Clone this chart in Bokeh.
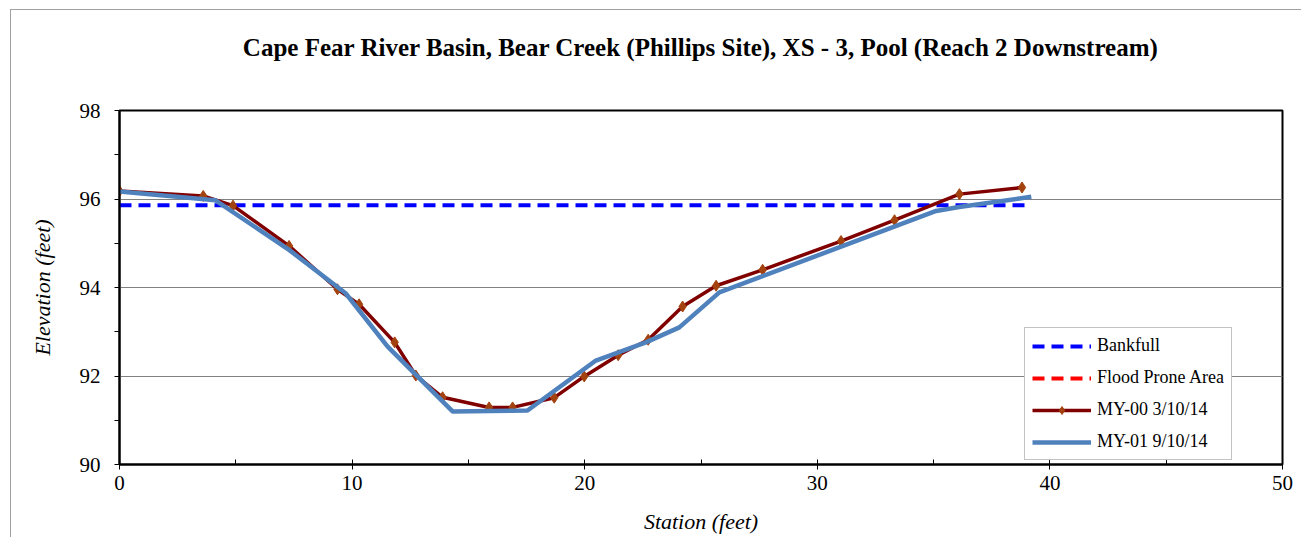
from bokeh.plotting import figure
from bokeh.models import Range1d, FixedTicker, Legend, LegendItem, Title
from bokeh.embed import file_html
from bokeh.resources import INLINE

# ---------------- data ----------------
title_text = "Cape Fear River Basin, Bear Creek (Phillips Site), XS - 3, Pool (Reach 2 Downstream)"

my00_station = [0.0, 3.60, 4.88, 7.29, 9.37, 10.30, 11.83, 12.74, 13.89, 15.89, 16.90,
                18.69, 19.98, 21.44, 22.73, 24.21, 25.65, 27.65, 31.02, 33.32, 36.11, 38.80]
my00_elev = [96.18, 96.07, 95.85, 94.94, 93.96, 93.62, 92.76, 92.01, 91.52, 91.29, 91.29,
             91.51, 91.99, 92.47, 92.82, 93.57, 94.04, 94.40, 95.05, 95.52, 96.11, 96.26]

my01_station = [0.0, 4.13, 7.29, 9.72, 11.52, 14.32, 17.54, 20.48, 22.63, 24.07, 25.79,
                35.11, 36.10, 39.20]
my01_elev = [96.17, 95.97, 94.85, 93.87, 92.67, 91.20, 91.22, 92.35, 92.76, 93.10, 93.89,
             95.73, 95.82, 96.05]

bankfull_station = [0.0, 39.20]
bankfull_elev = [95.86, 95.86]

# flood prone area: no visible values inside the chart (legend entry only)
flood_station = [float("nan"), float("nan")]
flood_elev = [float("nan"), float("nan")]

x_major = [0, 10, 20, 30, 40, 50]
x_minor = [5, 15, 25, 35, 45]
y_major = [90, 92, 94, 96, 98]
y_minor = [91, 93, 95, 97]

# ---------------- figure ----------------
FONT = "Liberation Serif"

p = figure(width=1291, height=528, output_backend="svg", toolbar_location=None,
           title=None,
           x_range=Range1d(0, 50), y_range=Range1d(90, 98),
           min_border_left=108, min_border_right=20, min_border_top=100,
           min_border_bottom=74)
p.styles = {"border-left": "1px solid #a0a0a0", "border-top": "1px solid #a0a0a0",
            "margin-left": "10px", "margin-top": "9px"}

# spacer panel between the frame and the title (nearest to the frame)
spacer = Title(text=" ", text_font_size="10px", standoff=37)
p.add_layout(spacer, "above")
main_title = Title(text=title_text, align="center", vertical_align="bottom", standoff=0,
                   text_font=FONT, text_font_size="25px", text_font_style="bold",
                   text_color="black")
p.add_layout(main_title, "above")

p.outline_line_color = "black"
p.outline_line_width = 2
p.background_fill_color = "white"
p.border_fill_color = "white"

p.xgrid.visible = False
p.ygrid.ticker = FixedTicker(ticks=y_major)
p.ygrid.grid_line_color = "#808080"
p.ygrid.grid_line_width = 1

xa = p.xaxis[0]
xa.ticker = FixedTicker(ticks=x_major, minor_ticks=x_minor)
xa.axis_label = "Station (feet)"
ya = p.yaxis[0]
ya.ticker = FixedTicker(ticks=y_major, minor_ticks=y_minor)
ya.axis_label = "Elevation (feet)"

for ax in (xa, ya):
    ax.axis_line_color = "black"
    ax.axis_line_width = 2
    ax.major_tick_line_color = "black"
    ax.minor_tick_line_color = "black"
    ax.major_label_text_font = FONT
    ax.major_label_text_font_size = "21px"
    ax.major_label_text_color = "black"
    ax.axis_label_text_font = FONT
    ax.axis_label_text_font_size = "22px"
    ax.axis_label_text_font_style = "italic"
    ax.axis_label_text_color = "black"

xa.major_tick_in = 5
xa.major_tick_out = 5
xa.minor_tick_in = 5
xa.minor_tick_out = 0
xa.major_label_standoff = 6
xa.axis_label_standoff = 16

ya.major_tick_in = 0
ya.major_tick_out = 5
ya.minor_tick_in = 0
ya.minor_tick_out = 5
ya.major_label_standoff = 14
ya.axis_label_standoff = 22

# ---------------- glyphs ----------------
r_bank = p.line(bankfull_station, bankfull_elev, line_color="#0000ff", line_width=4,
                line_dash="12 7")
r_flood = p.line(flood_station, flood_elev, line_color="#ff0000", line_width=4,
                 line_dash="12 7")
r_00 = p.line(my00_station, my00_elev, line_color="#800000", line_width=3.5)
r_00m = p.scatter(my00_station, my00_elev, marker="diamond", size=11,
                  fill_color="#a3420f", line_color="#a3420f")
r_01 = p.line(my01_station, my01_elev, line_color="#4f81bd", line_width=4.5)

legend = Legend(items=[
    LegendItem(label="Bankfull", renderers=[r_bank]),
    LegendItem(label="Flood Prone Area", renderers=[r_flood]),
    LegendItem(label="MY-00 3/10/14", renderers=[r_00, r_00m]),
    LegendItem(label="MY-01 9/10/14", renderers=[r_01]),
], location=(905, 4))
legend.label_text_font = FONT
legend.label_text_font_size = "18px"
legend.label_text_color = "black"
legend.glyph_width = 59
legend.glyph_height = 20
legend.label_height = 20
legend.spacing = 11
legend.padding = 7
legend.margin = 0
legend.label_standoff = 6
legend.border_line_color = "#888888"
legend.border_line_width = 1
legend.background_fill_alpha = 1
p.add_layout(legend, "center")

open("out.html", "w").write(file_html(p, INLINE))
